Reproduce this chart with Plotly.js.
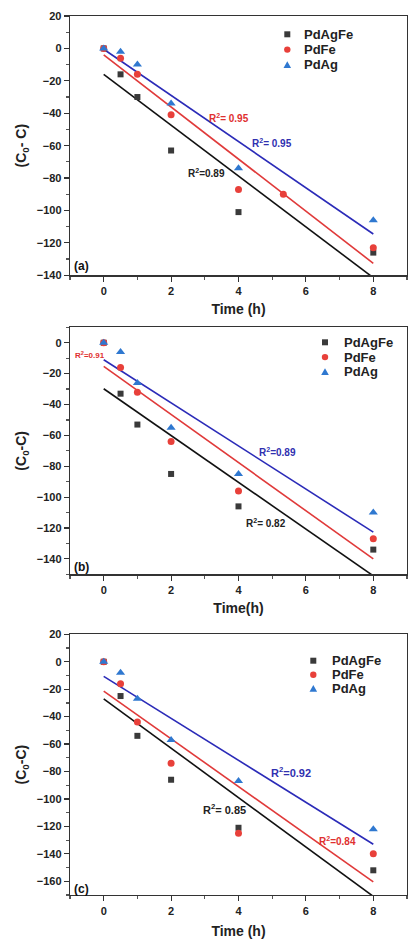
<!DOCTYPE html>
<html>
<head>
<meta charset="utf-8">
<script src="https://cdn.plot.ly/plotly-3.0.1.min.js"></script>
<style>html,body{margin:0;padding:0;background:#fff;}#chart{width:409px;height:945px;}</style>
</head>
<body>
<div id="chart"></div>
<script>
// ---- data ----
const seriesNames = ['PdAgFe', 'PdFe', 'PdAg'];
const timeH = [0, 0.5, 1, 2, 4, 8];

// panel (a)
const a_PdAgFe = [0, -16, -30, -63, -101, -126];
const a_PdFe_x = [0, 0.5, 1, 2, 4, 5.33, 8];
const a_PdFe = [0, -6, -16, -41, -87, -90, -123];
const a_PdAg = [0, -2, -10, -34, -74, -106];
const a_fitX = [0, 8];
const a_fit_PdAgFe = [-16, -141.5];
const a_fit_PdFe = [-4, -132.6];
const a_fit_PdAg = [-0.5, -114.5];
const a_r2 = ['R<sup>2</sup>=0.89', 'R<sup>2</sup>= 0.95', 'R<sup>2</sup>= 0.95'];

// panel (b)
const b_PdAgFe = [0, -33, -53, -85, -106, -134];
const b_PdFe = [0, -16, -32, -64, -96, -127];
const b_PdAg = [0, -6, -26, -55, -85, -110];
const b_fitX = [0, 8];
const b_fit_PdAgFe = [-29.8, -151];
const b_fit_PdFe = [-15.3, -140];
const b_fit_PdAg = [-11, -122.7];
const b_r2 = ['R<sup>2</sup>= 0.82', 'R<sup>2</sup>=0.91', 'R<sup>2</sup>=0.89'];

// panel (c)
const c_PdAgFe = [0, -25, -54, -86, -121, -152];
const c_PdFe = [0, -16, -44, -74, -125, -140];
const c_PdAg = [0, -8, -27, -57, -87, -122];
const c_fitX = [0, 8];
const c_fit_PdAgFe = [-27, -171];
const c_fit_PdFe = [-21.4, -160.5];
const c_fit_PdAg = [-10.7, -133];
const c_r2 = ['R<sup>2</sup>= 0.85', 'R<sup>2</sup>=0.84', 'R<sup>2</sup>=0.92'];

// ---- styles ----
const FONT = 'Arial, "Liberation Sans", sans-serif';
const colSq = '#3a3a3a', colRed = '#e8403a', colBlue = '#2f78d0';
const lineBlack = '#111111', lineRed = '#e03a3a', lineBlue = '#2b2bb8';
const txtRed = '#e03030', txtBlue = '#3030b0', txtBlack = '#222222';

const markers = [
  {symbol: 'square', size: 6, color: colSq},
  {symbol: 'circle', size: 7, color: colRed},
  {symbol: 'triangle-up', size: 8, color: colBlue}
];

const traces = [];
function addPanel(xa, ya, xs, ys, fitX, fits) {
  const lineCols = [lineBlack, lineRed, lineBlue];
  for (let i = 0; i < 3; i++) {
    traces.push({x: fitX, y: fits[i], xaxis: xa, yaxis: ya, mode: 'lines',
      line: {color: lineCols[i], width: 1.6}, showlegend: false, hoverinfo: 'skip'});
  }
  for (let i = 0; i < 3; i++) {
    traces.push({x: xs[i], y: ys[i], xaxis: xa, yaxis: ya, mode: 'markers',
      name: seriesNames[i], showlegend: false, marker: markers[i], cliponaxis: false});
  }
}
addPanel('x', 'y', [timeH, a_PdFe_x, timeH], [a_PdAgFe, a_PdFe, a_PdAg], a_fitX,
  [a_fit_PdAgFe, a_fit_PdFe, a_fit_PdAg]);
addPanel('x2', 'y2', [timeH, timeH, timeH], [b_PdAgFe, b_PdFe, b_PdAg], b_fitX,
  [b_fit_PdAgFe, b_fit_PdFe, b_fit_PdAg]);
addPanel('x3', 'y3', [timeH, timeH, timeH], [c_PdAgFe, c_PdFe, c_PdAg], c_fitX,
  [c_fit_PdAgFe, c_fit_PdFe, c_fit_PdAg]);

const W = 409, H = 945;
const px = v => v / W;
const py = v => (H - v) / H;

function xaxis(anchor, title, standoff) {
  return {
    domain: [px(70), px(407)], anchor: anchor, range: [-1, 9],
    tickvals: [0, 2, 4, 6, 8], ticks: 'outside', ticklen: 5, tickwidth: 1.2, tickcolor: '#333',
    minor: {dtick: 1, ticks: 'outside', ticklen: 3, tickcolor: '#555'},
    showline: true, linecolor: '#333', linewidth: 1.3, mirror: true, showgrid: false, zeroline: false,
    tickfont: {family: FONT, size: 11, color: '#222', weight: 'bold'},
    title: {text: title, font: {family: FONT, size: 14, color: '#222', weight: 'bold'}, standoff: standoff}
  };
}
function yaxis(top, bottom, range, dtick, anchor, title) {
  return {
    domain: [py(bottom), py(top)], anchor: anchor, range: range,
    dtick: dtick, ticks: 'outside', ticklen: 5, tickwidth: 1.2, tickcolor: '#333',
    minor: {dtick: 10, ticks: 'outside', ticklen: 3, tickcolor: '#555'},
    showline: true, linecolor: '#333', linewidth: 1.3, mirror: true, showgrid: false, zeroline: false,
    tickfont: {family: FONT, size: 11, color: '#222', weight: 'bold'},
    title: {text: title, font: {family: FONT, size: 14, color: '#222', weight: 'bold'}, standoff: 6}
  };
}

function ann(xr, yr, x, y, text, color, size, bold) {
  return {xref: xr, yref: yr, x: x, y: y, text: text, showarrow: false,
    font: {family: FONT, size: size, color: color, weight: bold ? 'bold' : 'normal'}};
}

const annotations = [
  ann('x', 'y', 3.73, -43, a_r2[1], txtRed, 10, true),
  ann('x', 'y', 5.0, -58.6, a_r2[2], txtBlue, 10, true),
  ann('x', 'y', 3.04, -77, a_r2[0], txtBlack, 10, true),
  ann('x', 'y', -0.66, -134.5, '(a)', '#111', 12, true),
  ann('x2', 'y2', -0.42, -7.8, b_r2[1], txtRed, 8, true),
  ann('x2', 'y2', 5.17, -70.6, b_r2[2], txtBlue, 10, true),
  ann('x2', 'y2', 4.81, -117, b_r2[0], txtBlack, 10, true),
  ann('x2', 'y2', -0.66, -145, '(b)', '#111', 12, true),
  ann('x3', 'y3', 5.56, -80.5, c_r2[2], txtBlue, 11, true),
  ann('x3', 'y3', 3.59, -107, c_r2[0], txtBlack, 11, true),
  ann('x3', 'y3', 6.95, -131, c_r2[1], txtRed, 10, true),
  ann('x3', 'y3', -0.66, -165.5, '(c)', '#111', 12, true)
];

// ---- custom legends (marker x, text x, first row y, row step) in pixels ----
const shapes = [];
function addLegend(mx, tx, y0, step) {
  const cols = [colSq, colRed, colBlue];
  for (let i = 0; i < 3; i++) {
    const yy = y0 + i * step;
    annotations.push({xref: 'paper', yref: 'paper', x: px(tx), y: py(yy), xanchor: 'left', yanchor: 'middle',
      text: seriesNames[i], showarrow: false,
      font: {family: FONT, size: 13, color: '#222', weight: 'bold'}});
    const base = {xref: 'paper', yref: 'paper', xsizemode: 'pixel', ysizemode: 'pixel',
      xanchor: px(mx), yanchor: py(yy), fillcolor: cols[i], line: {width: 0}};
    if (i === 0) shapes.push(Object.assign({type: 'rect', x0: -3, x1: 3, y0: -3, y1: 3}, base));
    if (i === 1) shapes.push(Object.assign({type: 'circle', x0: -3.2, x1: 3.2, y0: -3.2, y1: 3.2}, base));
    if (i === 2) shapes.push(Object.assign({type: 'path', path: 'M-3.8,-3 L3.8,-3 L0,3.6 Z'}, base));
  }
}
addLegend(287.3, 302, 34.3, 15.3);
addLegend(325, 342, 342.3, 14.8);
addLegend(313.3, 330, 660.7, 14);

const layout = {
  width: W, height: H, margin: {l: 0, r: 0, t: 0, b: 0},
  paper_bgcolor: '#fff', plot_bgcolor: '#fff', showlegend: false,
  font: {family: FONT},
  xaxis: xaxis('y', 'Time (h)', 8),
  yaxis: yaxis(16, 275.3, [-140, 20], 20, 'x', '(C<sub>0</sub>- C)'),
  xaxis2: xaxis('y2', 'Time(h)', 8),
  yaxis2: yaxis(327.3, 574.3, [-150, 10], 20, 'x2', '(C<sub>0</sub>-C)'),
  xaxis3: xaxis('y3', 'Time (h)', 10),
  yaxis3: yaxis(634.3, 895, [-170, 20], 20, 'x3', '(C<sub>0</sub>-C)'),
  annotations: annotations,
  shapes: shapes
};

Plotly.newPlot('chart', traces, layout, {staticPlot: true, displayModeBar: false});
</script>
</body>
</html>
